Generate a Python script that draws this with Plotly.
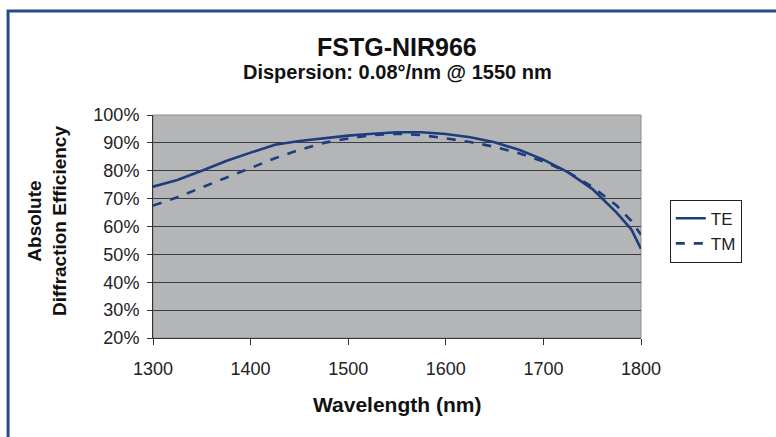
import plotly.graph_objects as go

wavelength = [1300, 1325, 1350, 1375, 1400, 1425, 1450, 1475, 1500, 1525, 1550,
              1575, 1600, 1625, 1650, 1675, 1700, 1725, 1750, 1775, 1790, 1800]
te = [74.3, 76.7, 80.0, 83.5, 86.5, 89.3, 90.7, 91.7, 92.6, 93.3, 93.8,
      93.8, 93.2, 92.0, 90.2, 87.5, 84.0, 79.5, 73.5, 65.0, 59.0, 52.0]
tm = [67.5, 70.5, 74.0, 77.5, 81.0, 84.5, 87.5, 90.0, 91.6, 92.8, 93.3,
      92.8, 91.6, 90.3, 88.6, 86.3, 83.3, 79.5, 74.3, 67.5, 62.0, 57.0]
y_ticks = [0.2, 0.3, 0.4, 0.5, 0.6, 0.7, 0.8, 0.9, 1.0]
x_ticks = [1300, 1400, 1500, 1600, 1700, 1800]

FONT = "Liberation Sans, Arial, sans-serif"
LINE = "#1f3d7c"

fig = go.Figure()
fig.add_trace(go.Scatter(x=wavelength, y=[v / 100 for v in te], name="TE",
                         mode="lines", line=dict(color=LINE, width=2.6)))
fig.add_trace(go.Scatter(x=wavelength, y=[v / 100 for v in tm], name="TM",
                         mode="lines", line=dict(color=LINE, width=2.6, dash="dash")))

fig.update_layout(
    width=776, height=437, autosize=False,
    margin=dict(l=153, r=135, t=115, b=99),
    paper_bgcolor="white", plot_bgcolor="#b4b5b7",
    font=dict(family=FONT, size=17, color="#222222"),
    showlegend=True,
    legend=dict(x=1.059, y=0.62, xanchor="left", yanchor="top",
                bgcolor="white", bordercolor="#222222", borderwidth=1,
                font=dict(size=17, color="#222222"), tracegroupgap=6),
    xaxis=dict(range=[1300, 1800], tickvals=x_ticks, showgrid=False,
               showline=True, linecolor="#333333", linewidth=1,
               ticks="outside", ticklen=6, tickcolor="#333333",
               ticklabelstandoff=8, zeroline=False,
               tickfont=dict(size=18)),
    yaxis=dict(range=[0.2, 1.0], tickvals=y_ticks, tickformat=".0%",
               showgrid=True, gridcolor="#3a3c42", gridwidth=1.2,
               showline=True, linecolor="#333333", linewidth=1,
               ticks="outside", ticklen=5, tickcolor="#333333",
               ticklabelstandoff=4, zeroline=False,
               tickfont=dict(size=18)),
    shapes=[
        dict(type="rect", xref="paper", yref="paper", x0=0, y0=0, x1=1, y1=1,
             line=dict(color="#8c8c8c", width=1), layer="below"),
        dict(type="rect", xref="paper", yref="paper", x0=-0.297, y0=-0.6,
             x1=1.4, y1=1.466, line=dict(color="#2b4a8a", width=3)),
    ],
    annotations=[
        dict(text="<b>FSTG-NIR966</b>", xref="paper", yref="paper", x=0.5, y=1.305,
             xanchor="center", yanchor="middle", showarrow=False,
             font=dict(size=25, color="#111111")),
        dict(text="<b>Dispersion: 0.08°/nm @ 1550 nm</b>", xref="paper", yref="paper",
             x=0.5, y=1.193, xanchor="center", yanchor="middle", showarrow=False,
             font=dict(size=20, color="#111111")),
        dict(text="<b>Wavelength (nm)</b>", xref="paper", yref="paper", x=0.5, y=-0.30,
             xanchor="center", yanchor="middle", showarrow=False,
             font=dict(size=21, color="#111111")),
        dict(text="<b>Absolute<br>Diffraction Efficiency</b>", xref="paper", yref="paper",
             x=-0.217, y=0.525, xanchor="center", yanchor="middle", showarrow=False,
             textangle=-90, font=dict(size=19, color="#111111")),
    ],
)

fig.write_html("out.html", config={"displayModeBar": False},
               post_script="document.body.style.margin='0';document.body.style.padding='0';")
